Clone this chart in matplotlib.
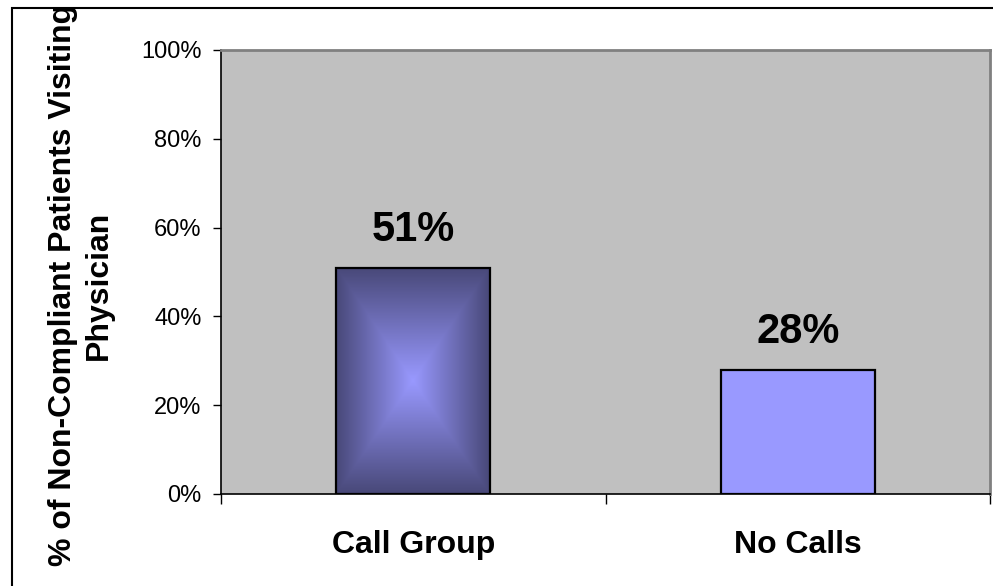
import numpy as np
import matplotlib
matplotlib.use("Agg")
import matplotlib.pyplot as plt
from matplotlib.patches import Rectangle
from matplotlib.ticker import PercentFormatter

categories = ["Call Group", "No Calls"]
values = [0.51, 0.28]
value_labels = ["51%", "28%"]
y_ticks = [0, 0.2, 0.4, 0.6, 0.8, 1.0]
y_label = "% of Non-Compliant Patients Visiting\nPhysician"

plt.rcParams['font.family'] = ['Liberation Sans', 'DejaVu Sans']

W, H = 993, 586
fig = plt.figure(figsize=(W / 100, H / 100), dpi=100)
fig.patch.set_facecolor('white')

L, R, T, B = 221, 990, 50, 494
ax = fig.add_axes([L / W, 1 - B / H, (R - L) / W, (B - T) / H])
ax.set_facecolor('#C0C0C0')

x = np.arange(len(categories))
bar_w = 0.4
bars = ax.bar(x, values, width=bar_w, color=['#9999FF', '#9999FF'],
              edgecolor='black', linewidth=1.6, zorder=3)

# rectangular "from centre" gradient on the first bar
b0 = bars[0]
bx, by = b0.get_x(), b0.get_y()
bw, bh = b0.get_width(), b0.get_height()
n = 400
u = np.linspace(-1, 1, n)
U, V = np.meshgrid(u, u)
t = np.maximum(np.abs(U), np.abs(V))
t = np.clip(t, 0, 1)
light = np.array([0x99, 0x99, 0xFF]) / 255
dark = np.array([0x48, 0x48, 0x78]) / 255
img = light[None, None, :] * (1 - t[..., None]) + dark[None, None, :] * t[..., None]
im = ax.imshow(img, extent=[bx, bx + bw, by, by + bh], aspect='auto',
               origin='lower', zorder=3.5, interpolation='bilinear')
im.set_clip_path(b0)
b0.set_facecolor('none')
b0.set_zorder(4)

ax.set_xlim(-0.5, 1.5)
ax.set_ylim(0, 1)

ax.set_yticks(y_ticks)
ax.yaxis.set_major_formatter(PercentFormatter(1.0, decimals=0))
ax.tick_params(axis='y', direction='out', length=6, width=1, labelsize=17,
               pad=8, colors='black')

ax.set_xticks([-0.5, 0.5, 1.5])
ax.set_xticklabels([])
ax.tick_params(axis='x', which='major', direction='out', length=7, width=1)
ax.set_xticks(x, minor=True)
ax.set_xticklabels(categories, minor=True, fontsize=23, fontweight='bold')
ax.tick_params(axis='x', which='minor', length=0, pad=26)

for s in ['left', 'bottom']:
    ax.spines[s].set_color('black')
    ax.spines[s].set_linewidth(1.2)
for s in ['top', 'right']:
    ax.spines[s].set_color('#808080')
    ax.spines[s].set_linewidth(2)

for xi, v, lab in zip(x, values, value_labels):
    ax.annotate(lab, (xi, v), xytext=(0, 19), textcoords='offset points',
                ha='center', va='baseline', fontsize=30, fontweight='bold',
                zorder=6)

fig.text(81 / W, 1 - 285 / H, y_label, rotation=90, ha='center', va='center',
         multialignment='center', fontsize=23, fontweight='bold',
         linespacing=1.25)

fig.patches.append(Rectangle((12 / W, -0.2), 1.2, 1.2 - 7.5 / H,
                             transform=fig.transFigure, fill=False,
                             edgecolor='black', linewidth=1.5,
                             clip_on=False))

fig.savefig("out.png", dpi=100)
